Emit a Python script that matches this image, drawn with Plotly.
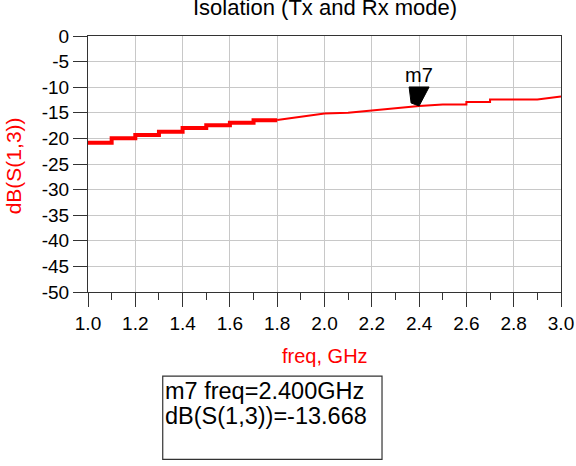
import plotly.graph_objects as go

# Data
freq_steps = [1.0, 1.1, 1.2, 1.3, 1.4, 1.5, 1.6, 1.7, 1.8]
s13_steps = [-20.85, -19.95, -19.35, -18.7, -17.98, -17.45, -16.94, -16.47, -16.47]
freq_tail = [1.8, 1.9, 2.0, 2.1, 2.2, 2.3, 2.4, 2.5, 2.6, 2.6, 2.7, 2.7, 2.9, 3.0]
s13_tail = [-16.4, -15.8, -15.15, -15.0, -14.55, -14.1, -13.668, -13.4, -13.4, -12.87, -12.87, -12.4, -12.4, -11.8]
marker_freq = 2.4
marker_val = -13.668
marker_name = "m7"
xticks = [1.0, 1.2, 1.4, 1.6, 1.8, 2.0, 2.2, 2.4, 2.6, 2.8, 3.0]
yticks = [0, -5, -10, -15, -20, -25, -30, -35, -40, -45, -50]

FONT = "Liberation Sans, Arial, sans-serif"
RED = "#ff0000"

fig = go.Figure()
fig.add_trace(go.Scatter(x=freq_steps, y=s13_steps, mode="lines",
                         line=dict(color=RED, width=4, shape="hv"),
                         showlegend=False, hoverinfo="skip"))
fig.add_trace(go.Scatter(x=freq_tail, y=s13_tail, mode="lines",
                         line=dict(color=RED, width=2),
                         showlegend=False, hoverinfo="skip"))

# marker triangle (pixel path anchored at data point)
fig.add_shape(type="path", xref="x", yref="y", xsizemode="pixel", ysizemode="pixel",
              xanchor=marker_freq, yanchor=marker_val,
              path="M -10,19 L 10,19 L 0,0 L -8,3 Z",
              fillcolor="black", line=dict(color="black", width=1))
fig.add_annotation(x=marker_freq, y=marker_val, xref="x", yref="y", text=marker_name,
                   showarrow=False, yshift=31, font=dict(family=FONT, size=20, color="black"))

# marker readout box
fig.add_shape(type="rect", xref="paper", yref="paper", x0=0.158, x1=0.6216, y0=-0.654, y1=-0.3285,
              line=dict(color="#333333", width=1.2), fillcolor="rgba(0,0,0,0)")
fig.add_annotation(xref="paper", yref="paper", x=0.158, y=-0.385, xanchor="left", yanchor="middle",
                   text=f"{marker_name} freq={marker_freq:.3f}GHz", showarrow=False,
                   font=dict(family=FONT, size=23.5, color="black"))
fig.add_annotation(xref="paper", yref="paper", x=0.158, y=-0.485, xanchor="left", yanchor="middle",
                   text=f"dB(S(1,3))={marker_val:.3f}", showarrow=False,
                   font=dict(family=FONT, size=23.5, color="black"))

# axis titles
fig.add_annotation(xref="paper", yref="paper", x=0.5, y=-0.25, xanchor="center", yanchor="middle",
                   text="freq, GHz", showarrow=False, font=dict(family=FONT, size=20, color=RED))
fig.add_annotation(xref="paper", yref="paper", x=-0.158, y=0.492, xanchor="center", yanchor="middle",
                   text="dB(S(1,3))", textangle=-90, showarrow=False,
                   font=dict(family=FONT, size=21, color=RED))
fig.add_annotation(xref="paper", yref="paper", x=0.5, y=1.0, yshift=14, xanchor="center", yanchor="bottom",
                   text="Isolation (Tx and Rx mode)", showarrow=False,
                   font=dict(family=FONT, size=22, color="black"))

fig.update_xaxes(range=[1.0, 3.0], tickvals=xticks, ticktext=[f"{v:.1f}" for v in xticks],
                 showgrid=True, gridcolor="#c8c8c8", gridwidth=1,
                 showline=True, linecolor="#333333", linewidth=1, mirror=True,
                 ticks="outside", ticklen=14, tickcolor="#333333",
                 minor=dict(dtick=0.1, tick0=1.0, ticks="outside", ticklen=7, tickcolor="#333333", showgrid=False),
                 tickfont=dict(family=FONT, size=19, color="black"), zeroline=False)
fig.update_yaxes(range=[-50, 0], tickvals=yticks, ticktext=[str(v) for v in yticks],
                 showgrid=True, gridcolor="#c8c8c8", gridwidth=1,
                 showline=True, linecolor="#333333", linewidth=1, mirror=True,
                 ticks="outside", ticklen=14, tickcolor="#333333",
                 tickfont=dict(family=FONT, size=19, color="black"), zeroline=False)

fig.update_layout(width=576, height=466, margin=dict(l=88, r=15, t=36, b=174, autoexpand=False),
                  paper_bgcolor="white", plot_bgcolor="white", showlegend=False)

fig.write_html("out.html")
